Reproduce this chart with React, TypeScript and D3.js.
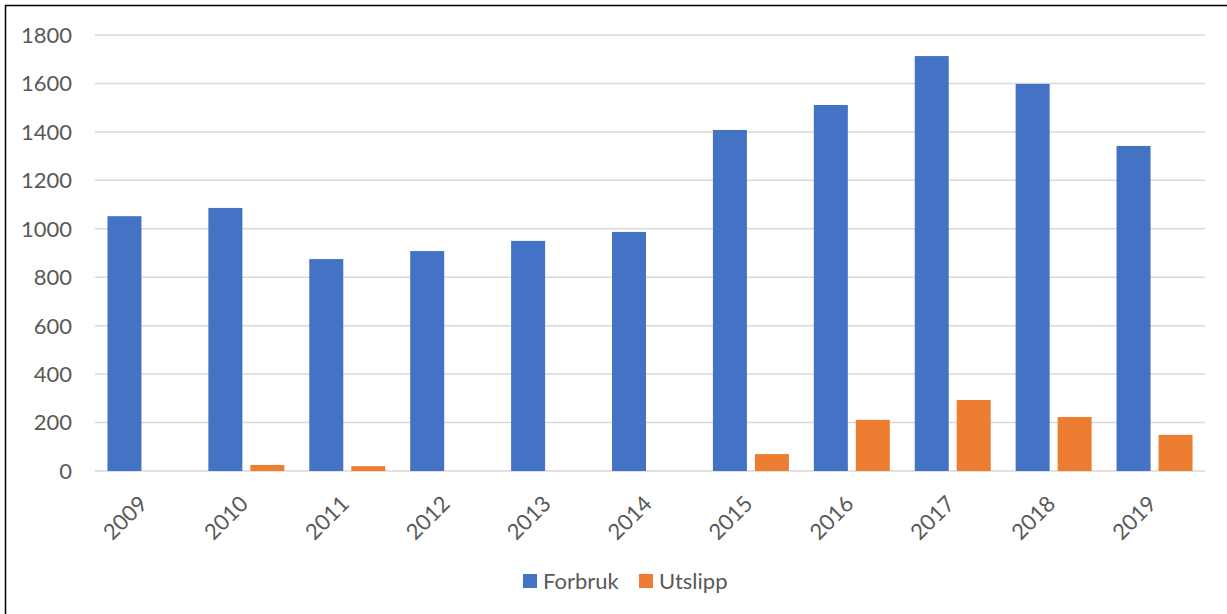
import React from "react";
import * as d3 from "d3";

const years = ["2009", "2010", "2011", "2012", "2013", "2014", "2015", "2016", "2017", "2018", "2019"];
const forbruk = [1052, 1086, 875, 908, 950, 987, 1408, 1511, 1713, 1598, 1342];
const utslipp = [0, 25, 20, 0, 0, 0, 70, 211, 293, 223, 149];
const seriesNames = ["Forbruk", "Utslipp"];
const seriesColors = ["#4472C4", "#ED7D31"];
const yTicks = [0, 200, 400, 600, 800, 1000, 1200, 1400, 1600, 1800];

const W = 1227;
const H = 614;
const plot = { left: 95, right: 1205, top: 35, bottom: 471 };
const font = "Lato, 'Open Sans', 'Liberation Sans', sans-serif";
const textColor = "#595959";
const fontSize = 22;

export default function App() {
  const x0 = d3
    .scaleBand<string>()
    .domain(years)
    .range([plot.left, plot.right])
    .paddingInner(0.247)
    .paddingOuter(0.1235);
  const x1 = d3
    .scaleBand<string>()
    .domain(seriesNames)
    .range([0, x0.bandwidth()])
    .paddingInner(0.19);
  const y = d3.scaleLinear().domain([0, 1800]).range([plot.bottom, plot.top]);
  const values = [forbruk, utslipp];
  const step = x0.step();

  return (
    <svg
      width={W}
      height={H}
      style={{ position: "absolute", left: 0, top: 0, background: "#fff" }}
      fontFamily={font}
    >
      <rect x={0} y={0} width={W} height={H} fill="#fff" />
      {/* outer frame */}
      <path d={`M5.5,${H + 2} V5.5 H${W + 2}`} fill="none" stroke="#000" strokeWidth={1.5} />

      {/* gridlines */}
      {yTicks.map((t) => (
        <line
          key={t}
          x1={plot.left}
          x2={plot.right}
          y1={y(t)}
          y2={y(t)}
          stroke="#d9d9d9"
          strokeWidth={1.5}
        />
      ))}

      {/* y tick labels */}
      {yTicks.map((t) => (
        <text
          key={t}
          x={72}
          y={y(t)}
          dy="0.36em"
          textAnchor="end"
          fontSize={fontSize}
          fill={textColor}
        >
          {t}
        </text>
      ))}

      {/* bars */}
      {years.map((yr, i) => (
        <g key={yr}>
          {seriesNames.map((s, k) => {
            const v = values[k][i];
            if (!v) return null;
            return (
              <rect
                key={s}
                x={(x0(yr) as number) + (x1(s) as number)}
                y={y(v)}
                width={x1.bandwidth()}
                height={y(0) - y(v)}
                fill={seriesColors[k]}
              />
            );
          })}
        </g>
      ))}

      {/* x tick labels, rotated 45° */}
      {years.map((yr) => {
        const center = (x0(yr) as number) - (step - x0.bandwidth()) / 2 + step / 2;
        return (
          <text
            key={yr}
            transform={`translate(${center - 8},${494}) rotate(-45)`}
            textAnchor="end"
            fontSize={fontSize}
            fill={textColor}
            dy="0.72em"
          >
            {yr}
          </text>
        );
      })}

      {/* legend */}
      {seriesNames.map((s, k) => {
        const lx = k === 0 ? 523 : 639;
        return (
          <g key={s}>
            <rect x={lx} y={574} width={14} height={14} fill={seriesColors[k]} />
            <text x={lx + 20} y={581} dy="0.36em" fontSize={fontSize} fill={textColor}>
              {s}
            </text>
          </g>
        );
      })}
    </svg>
  );
}
